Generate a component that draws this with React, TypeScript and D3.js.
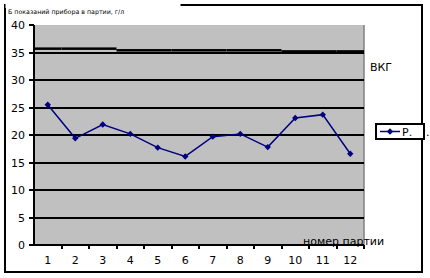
import React from "react";
import * as d3 from "d3";

const categories = ["1", "2", "3", "4", "5", "6", "7", "8", "9", "10", "11", "12"];
const seriesP = [25.5, 19.4, 21.9, 20.2, 17.7, 16.1, 19.7, 20.2, 17.8, 23.1, 23.7, 16.6];
const seriesVKG = [35.7, 35.7, 35.7, 35.4, 35.4, 35.4, 35.4, 35.4, 35.4, 35.2, 35.2, 35.2];
const yTicks = [0, 5, 10, 15, 20, 25, 30, 35, 40];
const gridValues = [5, 10, 15, 20, 25, 30, 35];
const titleText = "Б показаний прибора в партии, г/л";
const legendLabel = "Р.";
const vkgLabel = "ВКГ";
const xTitle = "номер партии";

export default function App() {
  const W = 430, H = 278;
  const left = 34, right = 364, top = 25, bottom = 245;
  const x = d3.scaleBand<string>().domain(categories).range([left, right]);
  const y = d3.scaleLinear().domain([0, 40]).range([bottom, top]);
  const cx = (c: string) => (x(c) as number) + x.bandwidth() / 2;
  const line = d3.line<number>().x((_, i) => cx(categories[i])).y((d) => y(d));
  const font = "'DejaVu Sans', Verdana, sans-serif";
  const diamond = (px: number, py: number, r = 3.2) =>
    `M${px},${py - r}L${px + r},${py}L${px},${py + r}L${px - r},${py}Z`;

  return (
    <svg width={W} height={H} style={{ position: "absolute", left: 0, top: 0, background: "#fff" }}>
      <rect x={5} y={5} width={417} height={267} fill="#fff" stroke="#000" strokeWidth={2} />
      <rect x={5.5} y={0} width={175} height={8} fill="#fff" />
      <rect x={left} y={top} width={right - left} height={bottom - top} fill="#c0c0c0" />
      <line x1={right} x2={right} y1={top} y2={bottom} stroke="#808080" strokeWidth={1.5} />
      {gridValues.map((v) => (
        <line key={v} x1={left} x2={right} y1={Math.round(y(v))} y2={Math.round(y(v))} stroke="#000" strokeWidth={2} shapeRendering="crispEdges" />
      ))}
      {/* VKG step line */}
      {categories.map((c, i) => (
        <line key={c} x1={x(c) as number} x2={(x(c) as number) + x.bandwidth()} y1={y(seriesVKG[i])} y2={y(seriesVKG[i])} stroke="#000" strokeWidth={2.5} />
      ))}
      {/* axes */}
      <line x1={left} x2={left} y1={top} y2={bottom + 1} stroke="#000" strokeWidth={2} />
      <line x1={left - 1} x2={right} y1={bottom} y2={bottom} stroke="#000" strokeWidth={2} />
      {yTicks.map((v) => (
        <g key={v}>
          <line x1={left - 5} x2={left} y1={Math.round(y(v))} y2={Math.round(y(v))} stroke="#000" strokeWidth={2} shapeRendering="crispEdges" />
          <text x={25} y={y(v) + 4} textAnchor="end" fontFamily={font} fontSize={11} fill="#000">{v}</text>
        </g>
      ))}
      {categories.map((c, i) => (
        <g key={c}>
          <line x1={Math.round((x(c) as number) + x.bandwidth())} x2={Math.round((x(c) as number) + x.bandwidth())} y1={bottom} y2={bottom + 4} stroke="#000" strokeWidth={2} shapeRendering="crispEdges" />
          <text x={cx(c)} y={264} textAnchor="middle" fontFamily={font} fontSize={11} fill="#000">{c}</text>
        </g>
      ))}
      {/* data series */}
      <path d={line(seriesP) || ""} fill="none" stroke="#000080" strokeWidth={1.5} />
      {seriesP.map((v, i) => (
        <path key={i} d={diamond(cx(categories[i]), y(v))} fill="#000080" />
      ))}
      <text x={303} y={245} fontFamily={font} fontSize={11} fill="#000">{xTitle}</text>
      <text x={370} y={71} fontFamily={font} fontSize={11} fill="#000">{vkgLabel}</text>
      <text x={8} y={14} fontFamily={font} fontSize={6.3} fill="#000">{titleText}</text>
      {/* legend */}
      <rect x={376} y={124} width={48} height={15} fill="#fff" stroke="#000" strokeWidth={2} />
      <line x1={380} x2={400} y1={131.5} y2={131.5} stroke="#000080" strokeWidth={1.5} />
      <path d={diamond(390, 131.5)} fill="#000080" />
      <text x={402} y={136} fontFamily={font} fontSize={11} fill="#000">{legendLabel}</text>
      <text x={426} y={136} fontFamily={font} fontSize={11} fill="#000">.</text>
    </svg>
  );
}
